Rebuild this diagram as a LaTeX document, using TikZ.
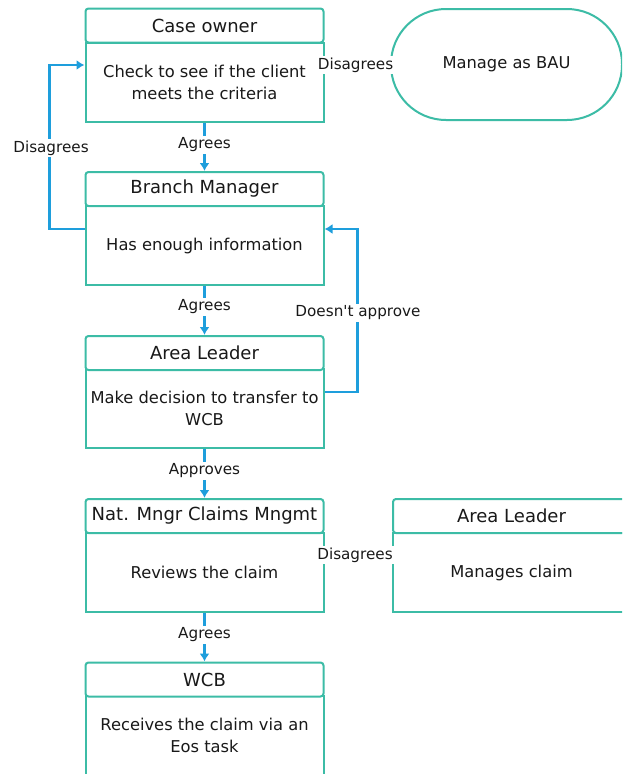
\documentclass[tikz,border=0pt]{standalone}
\usepackage{fontspec}
\setmainfont{DejaVu Sans}
\usetikzlibrary{arrows.meta}
\definecolor{boxteal}{RGB}{60,188,166}
\definecolor{flowblue}{RGB}{30,158,220}
\definecolor{txt}{RGB}{25,25,25}
\tikzset{
  hdr/.style={draw=boxteal, line width=2pt, rounded corners=3pt, fill=white,
    minimum width=238pt, minimum height=34pt, inner sep=0pt,
    font=\fontsize{18}{21}\selectfont, text=txt},
  bdy/.style={draw=boxteal, line width=2pt, fill=white,
    minimum width=238pt, minimum height=79pt, inner sep=0pt, align=center,
    font=\fontsize{16.3}{21.5}\selectfont, text=txt},
  term/.style={draw=boxteal, line width=2pt, fill=white, rounded corners=55pt,
    minimum width=231pt, minimum height=111pt, inner sep=0pt,
    font=\fontsize{16.3}{21.5}\selectfont, text=txt},
  lbl/.style={fill=white, inner sep=1.8pt, font=\fontsize{15.2}{18}\selectfont, text=txt},
  flow/.style={draw=flowblue, line width=2.6pt, -{Latex[length=8pt,width=10pt]}},
}
\begin{document}
\begin{tikzpicture}[x=1pt,y=-1pt]
\clip (0,0) rectangle (622,774);
\fill[white] (0,0) rectangle (622,774);

% column of boxes
\node[bdy] (b1) at (204.5,82.5) {Check to see if the client\\meets the criteria};
\node[hdr] (h1) at (204.5,25.5) {Case owner};

\node[bdy] (b2) at (204.5,245.5) {Has enough information};
\node[hdr] (h2) at (204.5,189) {Branch Manager};

\node[bdy] (b3) at (204.5,408.5) {Make decision to transfer to\\WCB};
\node[hdr] (h3) at (204.5,353) {Area Leader};

\node[bdy] (b4) at (204.5,572.5) {Reviews the claim};
\node[hdr] (h4) at (204.5,516) {Nat. Mngr Claims Mngmt};

\node[bdy] (b5) at (204.5,735.5) {Receives the claim via an\\Eos task};
\node[hdr] (h5) at (204.5,679.5) {WCB};

% right side
\node[term] (bau) at (506.5,64.5) {Manage as BAU};
\node[bdy, minimum width=237pt] (bR) at (511.5,572.5) {Manages claim};
\node[hdr, minimum width=237pt] (hR) at (511.5,516) {Area Leader};

% connectors
\draw[flow] (b1.south) -- (h2.north);
\draw[flow] (b2.south) -- (h3.north);
\draw[flow] (b3.south) -- (h4.north);
\draw[flow] (b4.south) -- (h5.north);
\draw[flow] ([yshift=16.5pt]b2.west) -- ++(-35,0) |- ([yshift=17.5pt]b1.west);
\draw[flow] ([yshift=16.5pt]b3.east) -- ++(33,0) |- ([yshift=16.5pt]b2.east);
\coordinate (d1) at ([yshift=17.5pt]b1.east);
\draw[flow] (d1) -- (d1 -| bau.west);
\coordinate (d2) at ([yshift=17.5pt]b4.east);
\draw[flow] (d2) -- (d2 -| bR.west);

% labels
\node[lbl] (l1) at (204.5,145) {Agrees};
\node[lbl] (l2) at (51,148) {Disagrees};
\node[lbl] (l3) at (355.5,65) {Disagrees};
\node[lbl] (l4) at (204.5,307) {Agrees};
\node[lbl] (l5) at (358,313) {Doesn\textquotesingle t approve};
\node[lbl] (l6) at (204.5,471) {Approves};
\node[lbl] (l7) at (355,555) {Disagrees};
\node[lbl] (l8) at (204.5,635) {Agrees};
\end{tikzpicture}
\end{document}
